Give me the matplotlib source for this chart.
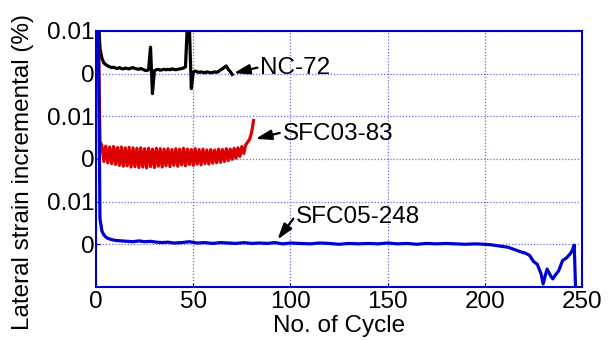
import numpy as np
import matplotlib
matplotlib.use('Agg')
import matplotlib.pyplot as plt

plt.rcParams['font.family'] = ['Liberation Sans', 'DejaVu Sans']

# NC-72, cycles 1..70
nc_x = np.arange(1, 71)
nc_y = [0.015, 0.0059, 0.0036, 0.0025, 0.0021, 0.0018, 0.0016, 0.0014, 0.0015, 0.0013,
        0.0012, 0.0014, 0.0012, 0.0011, 0.0013, 0.0012, 0.0011, 0.0013, 0.0014, 0.0012,
        0.0011, 0.0010, 0.0012, 0.0010, 0.0008, 0.0007, 0.0009, 0.0062, -0.0047, 0.0007,
        0.0009, 0.0010, 0.0008, 0.0009, 0.0010, 0.0009, 0.0010, 0.0009, 0.0011, 0.0010,
        0.0009, 0.0010, 0.0011, 0.0012, 0.0013, 0.0016, 0.0120, 0.0110, -0.0035, 0.0003,
        0.0006, 0.0004, 0.0003, 0.0004, 0.0003, 0.0002, 0.0004, 0.0003, 0.0002, 0.0003,
        0.0004, 0.0003, 0.0005, 0.0009, 0.0011, 0.0015, 0.0018, 0.0010, 0.0005, -0.0002]

# SFC03-83, cycles 1..81
sfc03_x = np.arange(1, 82)
sfc03_y = [0.035, 0.0042, 0.0031, -0.0006, 0.0030, -0.0009, 0.0028, -0.0011, 0.0029, -0.0013,
           0.0027, -0.0015, 0.0028, -0.0017, 0.0026, -0.0016, 0.0027, -0.0019, 0.0026, -0.0018,
           0.0025, -0.0020, 0.0026, -0.0019, 0.0024, -0.0021, 0.0025, -0.0018, 0.0023, -0.0020,
           0.0025, -0.0017, 0.0024, -0.0019, 0.0023, -0.0016, 0.0024, -0.0018, 0.0022, -0.0015,
           0.0024, -0.0017, 0.0023, -0.0014, 0.0025, -0.0016, 0.0023, -0.0013, 0.0022, -0.0015,
           0.0024, -0.0012, 0.0022, -0.0014, 0.0023, -0.0011, 0.0021, -0.0012, 0.0022, -0.0010,
           0.0021, -0.0009, 0.0023, -0.0008, 0.0022, -0.0006, 0.0024, -0.0004, 0.0023, -0.0001,
           0.0025, 0.0002, 0.0026, 0.0006, 0.0029, 0.0013, 0.0033, 0.0040, 0.0046, 0.0062,
           0.0090]

# SFC05-248
sfc05_x = [1, 2, 3, 4, 5, 6, 8, 10, 13, 16, 19, 22, 25, 28, 31, 34, 37, 40, 44, 48,
           52, 56, 60, 64, 68, 72, 76, 80, 84, 88, 92, 96, 100, 105, 110, 115, 120, 125, 130, 135,
           140, 145, 150, 155, 160, 165, 170, 175, 180, 185, 190, 195, 200, 203, 206, 209, 212, 215, 218, 221,
           223, 225, 227, 229, 230, 232, 234, 235, 236, 238, 240, 242, 244, 245, 246, 247]
sfc05_y = [0.06, 0.006, 0.0031, 0.0022, 0.0017, 0.0014, 0.0011, 0.0009, 0.0008, 0.0007,
           0.0006, 0.0008, 0.0006, 0.0007, 0.0005, 0.0004, 0.0005, 0.0003, 0.0004, 0.0006,
           0.0003, 0.0004, 0.0002, 0.0004, 0.0003, 0.0002, 0.0004, 0.0002, 0.0003, 0.0002,
           0.0004, 0.0001, 0.0003, 0.0002, 0.0001, 0.0003, 0.0002, 0.0000, 0.0002, 0.0001,
           0.0002, 0.0001, 0.0003, 0.0001, 0.0002, 0.0000, 0.0002, 0.0001, 0.0002, 0.0001,
           0.0000, 0.0001, 0.0000, -0.0001, -0.0003, -0.0005, -0.0007, -0.0012, -0.0017, -0.0021,
           -0.0026, -0.0040, -0.0047, -0.0070, -0.0093, -0.0058, -0.0075, -0.0081, -0.0074, -0.0062,
           -0.0038, -0.0032, -0.0022, -0.0014, -0.0002, -0.015]

ytick_pos = [0, 0.01, 0.02, 0.03, 0.04, 0.05]
ytick_labels = ['0', '0.01', '0', '0.01', '0', '0.01']
xtick_pos = [0, 50, 100, 150, 200, 250]

fig = plt.figure(figsize=(6.12, 3.4), dpi=100)
ax = fig.add_axes([0.157, 0.156, 0.794, 0.753])

fs = 17.5
frame = '#0000cc'

ax.plot(nc_x, np.array(nc_y) + 0.04, color='black', lw=2.3)
ax.plot(sfc03_x, np.array(sfc03_y) + 0.02, color='#dd0000', lw=2.3)
ax.plot(sfc05_x, sfc05_y, color='#0000cc', lw=2.3)

ax.set_xlim(0, 250)
ax.set_ylim(-0.01, 0.05)
ax.set_xticks(xtick_pos)
ax.set_yticks(ytick_pos)
ax.set_yticklabels(ytick_labels)
ax.tick_params(direction='in', length=3, color=frame, labelsize=fs, pad=3)
ax.tick_params(axis='y', pad=1)
for s in ax.spines.values():
    s.set_color(frame)
    s.set_linewidth(1.5)
ax.grid(True, color='#4444dd', linestyle=(0, (1, 1.5)), linewidth=0.9, alpha=0.8)

ax.set_xlabel('No. of Cycle', fontsize=fs, labelpad=1)
ax.set_ylabel('Lateral strain incremental (%)', fontsize=fs)
ax.yaxis.set_label_coords(-0.128, 0.45)

arr = dict(arrowstyle='-|>,head_length=0.8,head_width=0.25', color='black',
           lw=1.6, mutation_scale=12, shrinkA=0, shrinkB=0)
ax.annotate('', xy=(70.8, 0.0401), xytext=(83.0, 0.0414), arrowprops=arr)
ax.text(84.5, 0.0413, 'NC-72', fontsize=fs, va='center', ha='left')
ax.annotate('', xy=(82, 0.0247), xytext=(94.5, 0.0261), arrowprops=arr)
ax.text(95.9, 0.0259, 'SFC03-83', fontsize=fs, va='center', ha='left')
ax.annotate('', xy=(93.3, 0.0011), xytext=(101.5, 0.006), arrowprops=arr)
ax.text(102.6, 0.0065, 'SFC05-248', fontsize=fs, va='center', ha='left')

fig.savefig('out.png', dpi=100)
